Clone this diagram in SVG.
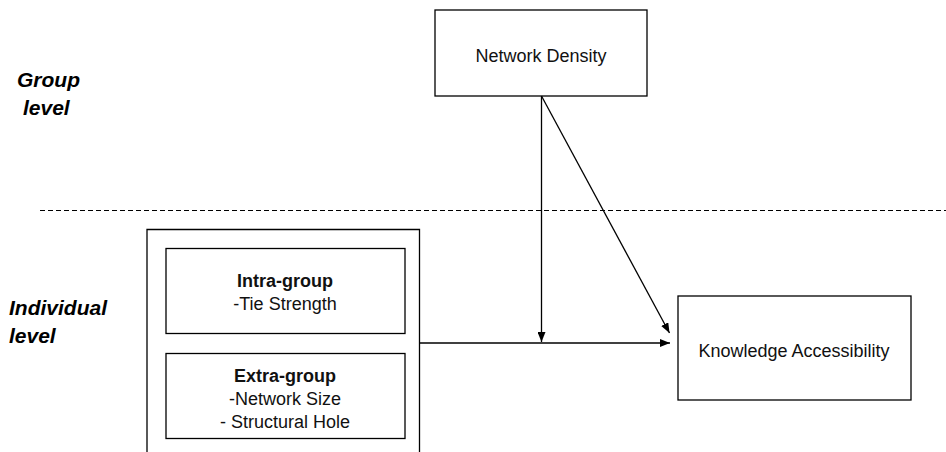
<svg xmlns="http://www.w3.org/2000/svg" width="946" height="452" viewBox="0 0 946 452">
<style>
.box{fill:#fff;stroke:#000;stroke-width:1.3}
.t{font-family:"Liberation Sans",Arial,sans-serif;font-size:18px;fill:#111;text-anchor:middle}
.b{font-weight:bold}
.lvl{font-family:"Liberation Sans",Arial,sans-serif;font-size:21px;font-weight:bold;font-style:italic;fill:#000}
.ln{stroke:#000;stroke-width:1.3;fill:none}
</style>
<defs>
<marker id="ah" viewBox="0 0 10 8" refX="10" refY="4" markerWidth="10" markerHeight="8" markerUnits="userSpaceOnUse" orient="auto">
<path d="M0,0 L10,4 L0,8 Z" fill="#000"/>
</marker>
</defs>
<rect width="946" height="452" fill="#fff"/>
<g id="labels">
<text class="lvl" x="17" y="87">Group</text>
<text class="lvl" x="23" y="115">level</text>
<text class="lvl" x="9" y="315">Individual</text>
<text class="lvl" x="9" y="343">level</text>
</g>
<g id="divider">
<line x1="40" y1="210.5" x2="946" y2="210.5" stroke="#000" stroke-width="1" stroke-dasharray="5,3"/>
</g>
<g id="network-density">
<rect class="box" x="435" y="10" width="212" height="86"/>
<text class="t" x="541" y="62">Network Density</text>
</g>
<g id="individual-container">
<path class="ln" d="M147,460 L147,229.5 L419.5,229.5 L419.5,460"/>
</g>
<g id="intra-group">
<rect class="box" x="166" y="248.5" width="239" height="85"/>
<text class="t b" x="285" y="287">Intra-group</text>
<text class="t" x="285" y="310">-Tie Strength</text>
</g>
<g id="extra-group">
<rect class="box" x="166" y="353.5" width="239" height="85"/>
<text class="t b" x="285" y="382">Extra-group</text>
<text class="t" x="285" y="405">-Network Size</text>
<text class="t" x="285" y="428">- Structural Hole</text>
</g>
<g id="knowledge-accessibility">
<rect class="box" x="678" y="296" width="233" height="104"/>
<text class="t" x="794" y="357">Knowledge Accessibility</text>
</g>
<g id="connectors">
<line class="ln" x1="419.5" y1="343" x2="670" y2="343" marker-end="url(#ah)"/>
<line class="ln" x1="541.5" y1="96" x2="541.5" y2="342" marker-end="url(#ah)"/>
<line class="ln" x1="541.5" y1="96" x2="669.5" y2="333" marker-end="url(#ah)"/>
</g>
</svg>
